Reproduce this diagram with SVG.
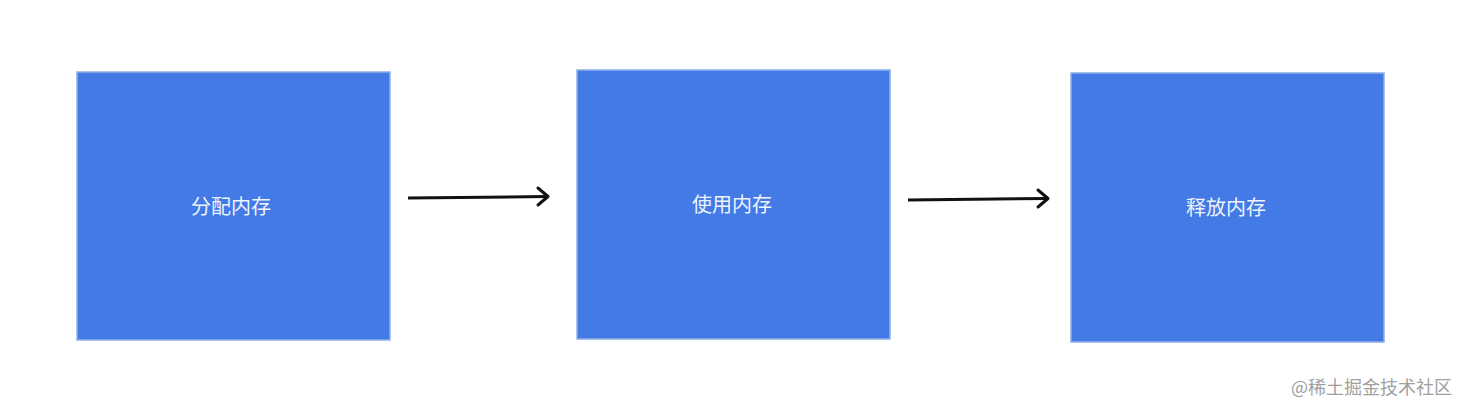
<svg xmlns="http://www.w3.org/2000/svg" width="1466" height="412" viewBox="0 0 1466 412">
<style>
.box{fill:#437ae6;stroke:#8fb0e8;stroke-width:1.5}
.lbl{font-family:"Noto Sans CJK SC","Noto Sans",sans-serif;font-size:20px;fill:#eef3fd;text-anchor:middle;dominant-baseline:central}
.wm{font-family:"Noto Sans CJK SC","Noto Sans",sans-serif;font-size:18px;fill:#a0a0a0;text-anchor:end;dominant-baseline:central}
.con{stroke:#111;stroke-width:3;fill:none}
.head{stroke:#111;stroke-width:3;fill:none;stroke-linecap:round;stroke-linejoin:round}
</style>
<rect width="1466" height="412" fill="#ffffff"/>
<g id="node-alloc"><rect class="box" x="77" y="72" width="313" height="268"/><text class="lbl" x="231" y="205">分配内存</text></g>
<g id="node-use"><rect class="box" x="577" y="70" width="313" height="269"/><text class="lbl" x="732" y="203">使用内存</text></g>
<g id="node-free"><rect class="box" x="1071" y="73" width="313" height="269"/><text class="lbl" x="1226" y="206">释放内存</text></g>
<g id="connectors">
<line class="con" x1="408" y1="198" x2="547" y2="196.5"/>
<polyline class="head" points="538,188 548,196.5 538,205"/>
<line class="con" x1="908" y1="200" x2="1047" y2="198.5"/>
<polyline class="head" points="1038,190 1048,198.5 1038,207"/>
</g>
<text class="wm" x="1452" y="386">@稀土掘金技术社区</text>
</svg>
